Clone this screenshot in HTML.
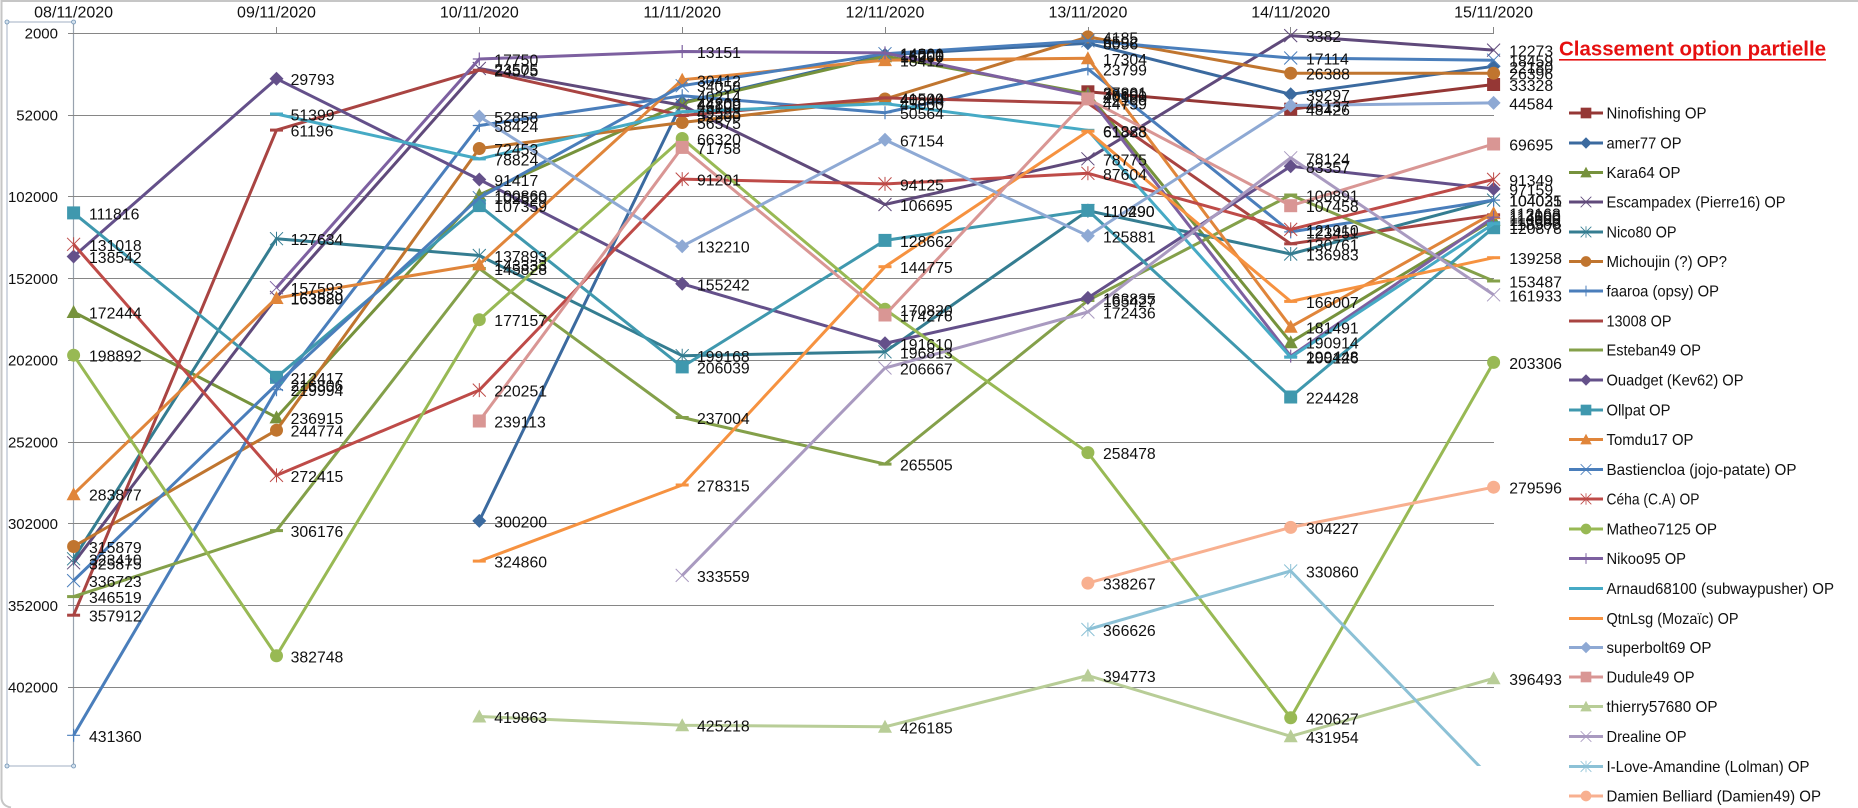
<!DOCTYPE html>
<html lang="fr">
<head>
<meta charset="utf-8">
<title>Classement option partielle</title>
<style>
html,body{margin:0;padding:0;background:#fff;width:1858px;height:808px;overflow:hidden}
svg{display:block;font-family:"Liberation Sans",sans-serif}
.l{fill:none;stroke:currentColor;stroke-width:3;stroke-linejoin:round}
.g{stroke:#868686;stroke-width:1;fill:none}
.lb text{font-size:15.8px;fill:#111}
.ax text{font-size:15px;fill:#111;text-anchor:end}
.dt text{font-size:16px;fill:#111;text-anchor:middle}
.lg text{font-size:16px;fill:#111}
.lg line{stroke:currentColor;stroke-width:3}
</style>
</head>
<body>
<svg width="1858" height="808" viewBox="0 0 1858 808" xmlns="http://www.w3.org/2000/svg">
<defs>
<clipPath id="cp"><rect x="0" y="0" width="1858" height="766"/></clipPath>
<rect id="s" x="-6.5" y="-6.5" width="13" height="13" fill="currentColor"/>
<polygon id="d" points="0,-7 7,0 0,7 -7,0" fill="currentColor"/>
<polygon id="t" points="0,-7 7,6 -7,6" fill="currentColor"/>
<circle id="c" r="6.5" fill="currentColor"/>
<path id="x" d="M-6.5-6.5L6.5 6.5M-6.5 6.5L6.5-6.5" stroke="currentColor" stroke-width="1" fill="none"/>
<path id="p" d="M-6.5 0H6.5M0-6.5V6.5" stroke="currentColor" stroke-width="1.2" fill="none"/>
<path id="a" d="M-6.5-6.5L6.5 6.5M-6.5 6.5L6.5-6.5M0-7V7" stroke="currentColor" stroke-width="1" fill="none"/>
<rect id="h" x="-6.5" y="-1.5" width="13" height="3" fill="currentColor"/>
</defs>
<rect width="1858" height="808" fill="#fff"/>
<path d="M1.5 798V1H1858" fill="none" stroke="#c6c6c6" stroke-width="2"/>
<path d="M1.5 798Q2 806 11 807.5" fill="none" stroke="#c6c6c6" stroke-width="2"/>

<!-- selection box -->
<path d="M7 22H73.6M7 22V766M7 766H73.6" fill="none" stroke="#b4bfcf" stroke-width="1.2"/>
<path d="M73.5 22V766" fill="none" stroke="#98a2ae" stroke-width="1.2"/>
<g fill="#d5e2ee" stroke="#6f92b4" stroke-width="0.8">
<circle cx="7" cy="22" r="2"/><circle cx="73.6" cy="22" r="2"/><circle cx="7" cy="766" r="2"/><circle cx="73.6" cy="766" r="2"/>
</g>

<!-- grid -->
<g class="g">
<path d="M68 33.5H1494M68 115.5H1494M68 196.5H1494M68 278.5H1494M68 360.5H1494M68 442.5H1494M68 523.5H1494M68 605.5H1494M68 687.5H1494"/>
<path d="M276.5 27V33M479.5 27V33M682.5 27V33M885.5 27V33M1088.5 27V33M1290.5 27V33M1493.5 27V33"/>
</g>
<g class="ax">
<text x="58" y="38.5">2000</text><text x="58" y="120.5">52000</text><text x="58" y="202">102000</text><text x="58" y="284">152000</text><text x="58" y="365.5">202000</text><text x="58" y="447.5">252000</text><text x="58" y="529">302000</text><text x="58" y="611">352000</text><text x="58" y="692.5">402000</text>
</g>
<g class="dt">
<text x="73.6" y="17.5">08/11/2020</text><text x="276.5" y="17.5">09/11/2020</text><text x="479.3" y="17.5">10/11/2020</text><text x="682.2" y="17.5">11/11/2020</text><text x="885" y="17.5">12/11/2020</text><text x="1087.9" y="17.5">13/11/2020</text><text x="1290.7" y="17.5">14/11/2020</text><text x="1493.6" y="17.5">15/11/2020</text>
</g>

<!-- series -->
<g color="#953735"><polyline class="l" points="1087.9,91.8 1290.7,109.2 1493.6,84.5"/><use href="#s" x="1087.9" y="91.8"/><use href="#s" x="1290.7" y="109.2"/><use href="#s" x="1493.6" y="84.5"/></g>
<g color="#3b6a9f"><polyline class="l" points="479.3,520.9 682.2,102.3 885,54.9 1087.9,43.2 1290.7,94.3 1493.6,66.3"/><use href="#d" x="479.3" y="520.9"/><use href="#d" x="682.2" y="102.3"/><use href="#d" x="885" y="54.9"/><use href="#d" x="1087.9" y="43.2"/><use href="#d" x="1290.7" y="94.3"/><use href="#d" x="1493.6" y="66.3"/></g>
<g color="#76923c"><polyline class="l" points="73.6,312 276.5,417.4 479.3,194.9 682.2,103.3 885,56.2 1087.9,93.6 1290.7,342.2 1493.6,219.7"/><use href="#t" x="73.6" y="312"/><use href="#t" x="276.5" y="417.4"/><use href="#t" x="479.3" y="194.9"/><use href="#t" x="682.2" y="103.3"/><use href="#t" x="885" y="56.2"/><use href="#t" x="1087.9" y="93.6"/><use href="#t" x="1290.7" y="342.2"/><use href="#t" x="1493.6" y="219.7"/></g>
<g color="#604a7b"><polyline class="l" points="73.6,562.8 276.5,297.4 479.3,68.5 682.2,105.4 885,204.5 1087.9,158.8 1290.7,35.6 1493.6,50.1"/><use href="#x" x="73.6" y="562.8"/><use href="#x" x="276.5" y="297.4"/><use href="#x" x="479.3" y="68.5"/><use href="#x" x="682.2" y="105.4"/><use href="#x" x="885" y="204.5"/><use href="#x" x="1087.9" y="158.8"/><use href="#x" x="1290.7" y="35.6"/><use href="#x" x="1493.6" y="50.1"/></g>
<g color="#357d91"><polyline class="l" points="73.6,558.8 276.5,238.7 479.3,255.5 682.2,355.7 885,351.8 1087.9,210.7 1290.7,254 1493.6,200.1"/><use href="#a" x="73.6" y="558.8"/><use href="#a" x="276.5" y="238.7"/><use href="#a" x="479.3" y="255.5"/><use href="#a" x="682.2" y="355.7"/><use href="#a" x="885" y="351.8"/><use href="#a" x="1087.9" y="210.7"/><use href="#a" x="1290.7" y="254"/><use href="#a" x="1493.6" y="200.1"/></g>
<g color="#c0752f"><polyline class="l" points="73.6,546.5 276.5,430.2 479.3,148.5 682.2,122.5 885,99 1087.9,36.9 1290.7,73.2 1493.6,73.2"/><use href="#c" x="73.6" y="546.5"/><use href="#c" x="276.5" y="430.2"/><use href="#c" x="479.3" y="148.5"/><use href="#c" x="682.2" y="122.5"/><use href="#c" x="885" y="99"/><use href="#c" x="1087.9" y="36.9"/><use href="#c" x="1290.7" y="73.2"/><use href="#c" x="1493.6" y="73.2"/></g>
<g color="#4a7ebb"><polyline class="l" points="73.6,735.3 276.5,389.7 479.3,125.5 682.2,95.8 885,112.7 1087.9,68.9 1290.7,231.9 1493.6,200.1"/><use href="#p" x="73.6" y="735.3"/><use href="#p" x="276.5" y="389.7"/><use href="#p" x="479.3" y="125.5"/><use href="#p" x="682.2" y="95.8"/><use href="#p" x="885" y="112.7"/><use href="#p" x="1087.9" y="68.9"/><use href="#p" x="1290.7" y="231.9"/><use href="#p" x="1493.6" y="200.1"/></g>
<g color="#a94442"><polyline class="l" points="73.6,615.2 276.5,130.1 479.3,70.2 682.2,115.5 885,97.9 1087.9,103.2 1290.7,243.8 1493.6,214.8"/><use href="#h" x="73.6" y="615.2"/><use href="#h" x="276.5" y="130.1"/><use href="#h" x="479.3" y="70.2"/><use href="#h" x="682.2" y="115.5"/><use href="#h" x="885" y="97.9"/><use href="#h" x="1087.9" y="103.2"/><use href="#h" x="1290.7" y="243.8"/><use href="#h" x="1493.6" y="214.8"/></g>
<g color="#84a04a"><polyline class="l" points="73.6,596.6 276.5,530.6 479.3,268.5 682.2,417.5 885,464.1 1087.9,300.5 1290.7,195 1493.6,281"/><use href="#h" x="73.6" y="596.6"/><use href="#h" x="276.5" y="530.6"/><use href="#h" x="479.3" y="268.5"/><use href="#h" x="682.2" y="417.5"/><use href="#h" x="885" y="464.1"/><use href="#h" x="1087.9" y="300.5"/><use href="#h" x="1290.7" y="195"/><use href="#h" x="1493.6" y="281"/></g>
<g color="#64508a"><polyline class="l" points="73.6,256.5 276.5,78.7 479.3,179.5 682.2,283.8 885,343.3 1087.9,297.9 1290.7,166.3 1493.6,188.9"/><use href="#d" x="73.6" y="256.5"/><use href="#d" x="276.5" y="78.7"/><use href="#d" x="479.3" y="179.5"/><use href="#d" x="682.2" y="283.8"/><use href="#d" x="885" y="343.3"/><use href="#d" x="1087.9" y="297.9"/><use href="#d" x="1290.7" y="166.3"/><use href="#d" x="1493.6" y="188.9"/></g>
<g color="#3f98ae"><polyline class="l" points="73.6,212.9 276.5,377.3 479.3,205.6 682.2,366.9 885,240.4 1087.9,210.4 1290.7,397 1493.6,227.7"/><use href="#s" x="73.6" y="212.9"/><use href="#s" x="276.5" y="377.3"/><use href="#s" x="479.3" y="205.6"/><use href="#s" x="682.2" y="366.9"/><use href="#s" x="885" y="240.4"/><use href="#s" x="1087.9" y="210.4"/><use href="#s" x="1290.7" y="397"/><use href="#s" x="1493.6" y="227.7"/></g>
<g color="#e0853a"><polyline class="l" points="73.6,494.2 276.5,298 479.3,264.4 682.2,79.8 885,60.1 1087.9,58.3 1290.7,326.8 1493.6,213.1"/><use href="#t" x="73.6" y="494.2"/><use href="#t" x="276.5" y="298"/><use href="#t" x="479.3" y="264.4"/><use href="#t" x="682.2" y="79.8"/><use href="#t" x="885" y="60.1"/><use href="#t" x="1087.9" y="58.3"/><use href="#t" x="1290.7" y="326.8"/><use href="#t" x="1493.6" y="213.1"/></g>
<g color="#4a7ebb"><polyline class="l" points="73.6,580.6 276.5,384.5 479.3,197.7 682.2,85.7 885,53.7 1087.9,40.8 1290.7,58 1493.6,60.2"/><use href="#x" x="73.6" y="580.6"/><use href="#x" x="276.5" y="384.5"/><use href="#x" x="479.3" y="197.7"/><use href="#x" x="682.2" y="85.7"/><use href="#x" x="885" y="53.7"/><use href="#x" x="1087.9" y="40.8"/><use href="#x" x="1290.7" y="58"/><use href="#x" x="1493.6" y="60.2"/></g>
<g color="#be4b48"><polyline class="l" points="73.6,244.3 276.5,475.4 479.3,390.1 682.2,179.1 885,183.9 1087.9,173.3 1290.7,229.4 1493.6,179.4"/><use href="#a" x="73.6" y="244.3"/><use href="#a" x="276.5" y="475.4"/><use href="#a" x="479.3" y="390.1"/><use href="#a" x="682.2" y="179.1"/><use href="#a" x="885" y="183.9"/><use href="#a" x="1087.9" y="173.3"/><use href="#a" x="1290.7" y="229.4"/><use href="#a" x="1493.6" y="179.4"/></g>
<g color="#98b954"><polyline class="l" points="73.6,355.2 276.5,655.8 479.3,319.7 682.2,138.5 885,309.3 1087.9,452.6 1290.7,717.8 1493.6,362.4"/><use href="#c" x="73.6" y="355.2"/><use href="#c" x="276.5" y="655.8"/><use href="#c" x="479.3" y="319.7"/><use href="#c" x="682.2" y="138.5"/><use href="#c" x="885" y="309.3"/><use href="#c" x="1087.9" y="452.6"/><use href="#c" x="1290.7" y="717.8"/><use href="#c" x="1493.6" y="362.4"/></g>
<g color="#7d60a0"><polyline class="l" points="276.5,287.7 479.3,59 682.2,51.5 885,52.9 1087.9,95.6 1290.7,356.1 1493.6,217.2"/><use href="#x" x="276.5" y="287.7"/><use href="#p" x="479.3" y="59"/><use href="#p" x="682.2" y="51.5"/><use href="#p" x="885" y="52.9"/><use href="#p" x="1087.9" y="95.6"/><use href="#p" x="1290.7" y="356.1"/><use href="#p" x="1493.6" y="217.2"/></g>
<g color="#46aac5"><polyline class="l" points="276.5,114 479.3,158.9 682.2,111.8 885,103.6 1087.9,130.3 1290.7,357.2 1493.6,223.7"/><use href="#h" x="276.5" y="114"/><use href="#h" x="479.3" y="158.9"/><use href="#h" x="682.2" y="111.8"/><use href="#h" x="885" y="103.6"/><use href="#h" x="1087.9" y="130.3"/><use href="#h" x="1290.7" y="357.2"/><use href="#h" x="1493.6" y="223.7"/></g>
<g color="#f69240"><polyline class="l" points="479.3,561.1 682.2,485 885,266.7 1087.9,131.2 1290.7,301.4 1493.6,257.7"/><use href="#h" x="479.3" y="561.1"/><use href="#h" x="682.2" y="485"/><use href="#h" x="885" y="266.7"/><use href="#h" x="1087.9" y="131.2"/><use href="#h" x="1290.7" y="301.4"/><use href="#h" x="1493.6" y="257.7"/></g>
<g color="#8ea9d4"><polyline class="l" points="479.3,116.5 682.2,246.2 885,139.8 1087.9,235.8 1290.7,105.5 1493.6,102.9"/><use href="#d" x="479.3" y="116.5"/><use href="#d" x="682.2" y="246.2"/><use href="#d" x="885" y="139.8"/><use href="#d" x="1087.9" y="235.8"/><use href="#d" x="1290.7" y="105.5"/><use href="#d" x="1493.6" y="102.9"/></g>
<g color="#d99694"><polyline class="l" points="479.3,421 682.2,147.4 885,315 1087.9,98.9 1290.7,205.7 1493.6,144"/><use href="#s" x="479.3" y="421"/><use href="#s" x="682.2" y="147.4"/><use href="#s" x="885" y="315"/><use href="#s" x="1087.9" y="98.9"/><use href="#s" x="1290.7" y="205.7"/><use href="#s" x="1493.6" y="144"/></g>
<g color="#b8cd97"><polyline class="l" points="479.3,716.5 682.2,725.2 885,726.8 1087.9,675.5 1290.7,736.3 1493.6,678.3"/><use href="#t" x="479.3" y="716.5"/><use href="#t" x="682.2" y="725.2"/><use href="#t" x="885" y="726.8"/><use href="#t" x="1087.9" y="675.5"/><use href="#t" x="1290.7" y="736.3"/><use href="#t" x="1493.6" y="678.3"/></g>
<g color="#a99ac0"><polyline class="l" points="682.2,575.4 885,368 1087.9,312 1290.7,157.8 1493.6,294.8"/><use href="#x" x="682.2" y="575.4"/><use href="#x" x="885" y="368"/><use href="#x" x="1087.9" y="312"/><use href="#x" x="1290.7" y="157.8"/><use href="#x" x="1493.6" y="294.8"/></g>
<g color="#8cc1d6"><polyline class="l" clip-path="url(#cp)" points="1087.9,629.5 1290.7,571 1493.6,781"/><use href="#a" x="1087.9" y="629.5"/><use href="#a" x="1290.7" y="571"/></g>
<g color="#f8b090"><polyline class="l" points="1087.9,583.1 1290.7,527.4 1493.6,487.2"/><use href="#c" x="1087.9" y="583.1"/><use href="#c" x="1290.7" y="527.4"/><use href="#c" x="1493.6" y="487.2"/></g>

<!-- data labels -->
<g class="lb">
<g transform="translate(89,6.5)"><text y="212.9">111816</text><text y="244.3">131018</text><text y="256.5">138542</text><text y="312">172444</text><text y="355.2">198892</text><text y="494.2">283877</text><text y="546.5">315879</text><text y="558.8">323410</text><text y="562.8">325875</text><text y="580.6">336723</text><text y="596.6">346519</text><text y="615.2">357912</text><text y="735.3">431360</text></g>
<g transform="translate(290.6,6.5)"><text y="78.7">29793</text><text y="114">51399</text><text y="130.1">61196</text><text y="238.7">127634</text><text y="287.7">157593</text><text y="297.4">163520</text><text y="298">163889</text><text y="377.3">212417</text><text y="384.5">216806</text><text y="389.7">219994</text><text y="417.4">236915</text><text y="430.2">244774</text><text y="475.4">272415</text><text y="530.6">306176</text><text y="655.8">382748</text></g>
<g transform="translate(494.3,6.5)"><text y="59">17750</text><text y="68.5">23505</text><text y="70.2">24575</text><text y="116.5">52858</text><text y="125.5">58424</text><text y="148.5">72453</text><text y="158.9">78824</text><text y="179.5">91417</text><text y="194.9">100860</text><text y="197.7">102520</text><text y="205.6">107359</text><text y="255.5">137893</text><text y="264.4">143333</text><text y="268.5">145828</text><text y="319.7">177157</text><text y="390.1">220251</text><text y="421">239113</text><text y="520.9">300200</text><text y="561.1">324860</text><text y="716.5">419863</text></g>
<g transform="translate(697,6.5)"><text y="51.5">13151</text><text y="79.8">30412</text><text y="85.7">34058</text><text y="95.8">40214</text><text y="102.3">44200</text><text y="103.3">44809</text><text y="105.4">46100</text><text y="111.8">49593</text><text y="115.5">52300</text><text y="122.5">56575</text><text y="138.5">66320</text><text y="147.4">71758</text><text y="179.1">91201</text><text y="246.2">132210</text><text y="283.8">155242</text><text y="355.7">199168</text><text y="366.9">206039</text><text y="417.5">237004</text><text y="485">278315</text><text y="575.4">333559</text><text y="725.2">425218</text></g>
<g transform="translate(900,6.5)"><text y="52.9">14001</text><text y="53.7">14500</text><text y="54.9">15200</text><text y="56.2">16000</text><text y="60.1">18412</text><text y="97.9">41500</text><text y="99">40844</text><text y="103.6">45000</text><text y="112.7">50564</text><text y="139.8">67154</text><text y="183.9">94125</text><text y="204.5">106695</text><text y="240.4">128662</text><text y="266.7">144775</text><text y="309.3">170820</text><text y="315">174276</text><text y="343.3">191610</text><text y="351.8">196813</text><text y="368">206667</text><text y="464.1">265505</text><text y="726.8">426185</text></g>
<g transform="translate(1103,6.5)"><text y="36.9">4185</text><text y="40.8">6592</text><text y="43.2">8056</text><text y="58.3">17304</text><text y="68.9">23799</text><text y="91.8">37801</text><text y="93.6">38891</text><text y="95.6">40100</text><text y="98.9">42100</text><text y="103.2">44759</text><text y="130.3">61328</text><text y="131.2">61888</text><text y="158.8">78775</text><text y="173.3">87604</text><text y="210.4">110290</text><text y="210.7">110490</text><text y="235.8">125881</text><text y="297.9">163835</text><text y="300.5">165427</text><text y="312">172436</text><text y="452.6">258478</text><text y="583.1">338267</text><text y="629.5">366626</text><text y="675.5">394773</text></g>
<g transform="translate(1306,6.5)"><text y="35.6">3382</text><text y="58">17114</text><text y="73.2">26388</text><text y="94.3">39297</text><text y="105.5">46137</text><text y="109.2">48426</text><text y="157.8">78124</text><text y="166.3">83357</text><text y="195">100891</text><text y="205.7">107458</text><text y="229.4">121910</text><text y="231.9">123451</text><text y="243.8">130761</text><text y="254">136983</text><text y="301.4">166007</text><text y="326.8">181491</text><text y="342.2">190914</text><text y="356.1">199448</text><text y="357.2">200126</text><text y="397">224428</text><text y="527.4">304227</text><text y="571">330860</text><text y="717.8">420627</text><text y="736.3">431954</text></g>
<g transform="translate(1509.2,6.5)"><text y="50.1">12273</text><text y="60.2">18459</text><text y="66.3">22180</text><text y="73.2">26396</text><text y="84.5">33328</text><text y="102.9">44584</text><text y="144">69695</text><text y="179.4">91349</text><text y="188.9">97159</text><text y="200.1">104025</text><text y="200.1">104031</text><text y="213.1">112163</text><text y="214.8">113000</text><text y="217.2">114500</text><text y="219.7">116000</text><text y="223.7">118500</text><text y="227.7">120878</text><text y="257.7">139258</text><text y="281">153487</text><text y="294.8">161933</text><text y="362.4">203306</text><text y="487.2">279596</text><text y="678.3">396493</text></g>
</g>

<!-- title -->
<text x="1559" y="55.5" font-size="20" font-weight="700" fill="#e60f0f" textLength="267" lengthAdjust="spacingAndGlyphs">Classement option partielle</text>
<rect x="1559" y="59" width="267" height="1.6" fill="#e60f0f"/>

<!-- legend -->
<g class="lg">
<g color="#953735"><line x1="1569" x2="1603" y1="113" y2="113"/><use href="#s" transform="translate(1586,113) scale(.82)"/><text x="1606.5" y="118.5" textLength="100" lengthAdjust="spacingAndGlyphs">Ninofishing OP</text></g>
<g color="#3b6a9f"><line x1="1569" x2="1603" y1="143" y2="143"/><use href="#d" transform="translate(1586,143) scale(.82)"/><text x="1606.5" y="148.5" textLength="75" lengthAdjust="spacingAndGlyphs">amer77 OP</text></g>
<g color="#76923c"><line x1="1569" x2="1603" y1="172.5" y2="172.5"/><use href="#t" transform="translate(1586,172.5) scale(.82)"/><text x="1606.5" y="178" textLength="74" lengthAdjust="spacingAndGlyphs">Kara64  OP</text></g>
<g color="#604a7b"><line x1="1569" x2="1603" y1="202" y2="202"/><use href="#x" transform="translate(1586,202) scale(.82)"/><text x="1606.5" y="207.5" textLength="179" lengthAdjust="spacingAndGlyphs">Escampadex (Pierre16) OP</text></g>
<g color="#357d91"><line x1="1569" x2="1603" y1="232" y2="232"/><use href="#a" transform="translate(1586,232) scale(.82)"/><text x="1606.5" y="237.5" textLength="70" lengthAdjust="spacingAndGlyphs">Nico80 OP</text></g>
<g color="#c0752f"><line x1="1569" x2="1603" y1="261.5" y2="261.5"/><use href="#c" transform="translate(1586,261.5) scale(.82)"/><text x="1606.5" y="267" textLength="120.5" lengthAdjust="spacingAndGlyphs">Michoujin (?) OP?</text></g>
<g color="#4a7ebb"><line x1="1569" x2="1603" y1="291" y2="291"/><use href="#p" transform="translate(1586,291) scale(.82)"/><text x="1606.5" y="296.5" textLength="112.5" lengthAdjust="spacingAndGlyphs">faaroa (opsy) OP</text></g>
<g color="#a94442"><line x1="1569" x2="1603" y1="321" y2="321"/><text x="1606.5" y="326.5" textLength="65" lengthAdjust="spacingAndGlyphs">13008 OP</text></g>
<g color="#84a04a"><line x1="1569" x2="1603" y1="350" y2="350"/><text x="1606.5" y="355.5" textLength="94.5" lengthAdjust="spacingAndGlyphs">Esteban49 OP</text></g>
<g color="#64508a"><line x1="1569" x2="1603" y1="380" y2="380"/><use href="#d" transform="translate(1586,380) scale(.82)"/><text x="1606.5" y="385.5" textLength="137" lengthAdjust="spacingAndGlyphs">Ouadget (Kev62) OP</text></g>
<g color="#3f98ae"><line x1="1569" x2="1603" y1="410" y2="410"/><use href="#s" transform="translate(1586,410) scale(.82)"/><text x="1606.5" y="415.5" textLength="64" lengthAdjust="spacingAndGlyphs">Ollpat OP</text></g>
<g color="#e0853a"><line x1="1569" x2="1603" y1="439.5" y2="439.5"/><use href="#t" transform="translate(1586,439.5) scale(.82)"/><text x="1606.5" y="445" textLength="87" lengthAdjust="spacingAndGlyphs">Tomdu17 OP</text></g>
<g color="#4a7ebb"><line x1="1569" x2="1603" y1="469.5" y2="469.5"/><use href="#x" transform="translate(1586,469.5) scale(.82)"/><text x="1606.5" y="475" textLength="190" lengthAdjust="spacingAndGlyphs">Bastiencloa (jojo-patate) OP</text></g>
<g color="#be4b48"><line x1="1569" x2="1603" y1="499" y2="499"/><use href="#a" transform="translate(1586,499) scale(.82)"/><text x="1606.5" y="504.5" textLength="93" lengthAdjust="spacingAndGlyphs">Céha (C.A) OP</text></g>
<g color="#98b954"><line x1="1569" x2="1603" y1="529" y2="529"/><use href="#c" transform="translate(1586,529) scale(.82)"/><text x="1606.5" y="534.5" textLength="110.5" lengthAdjust="spacingAndGlyphs">Matheo7125 OP</text></g>
<g color="#7d60a0"><line x1="1569" x2="1603" y1="558.5" y2="558.5"/><use href="#p" transform="translate(1586,558.5) scale(.82)"/><text x="1606.5" y="564" textLength="79.5" lengthAdjust="spacingAndGlyphs">Nikoo95 OP</text></g>
<g color="#46aac5"><line x1="1569" x2="1603" y1="588.5" y2="588.5"/><text x="1606.5" y="594" textLength="227.5" lengthAdjust="spacingAndGlyphs">Arnaud68100 (subwaypusher) OP</text></g>
<g color="#f69240"><line x1="1569" x2="1603" y1="618.5" y2="618.5"/><text x="1606.5" y="624" textLength="132" lengthAdjust="spacingAndGlyphs">QtnLsg (Mozaïc) OP</text></g>
<g color="#8ea9d4"><line x1="1569" x2="1603" y1="647.5" y2="647.5"/><use href="#d" transform="translate(1586,647.5) scale(.82)"/><text x="1606.5" y="653" textLength="105" lengthAdjust="spacingAndGlyphs">superbolt69 OP</text></g>
<g color="#d99694"><line x1="1569" x2="1603" y1="677" y2="677"/><use href="#s" transform="translate(1586,677) scale(.82)"/><text x="1606.5" y="682.5" textLength="88" lengthAdjust="spacingAndGlyphs">Dudule49 OP</text></g>
<g color="#b8cd97"><line x1="1569" x2="1603" y1="706.5" y2="706.5"/><use href="#t" transform="translate(1586,706.5) scale(.82)"/><text x="1606.5" y="712" textLength="111" lengthAdjust="spacingAndGlyphs">thierry57680 OP</text></g>
<g color="#a99ac0"><line x1="1569" x2="1603" y1="736.5" y2="736.5"/><use href="#x" transform="translate(1586,736.5) scale(.82)"/><text x="1606.5" y="742" textLength="80" lengthAdjust="spacingAndGlyphs">Drealine OP</text></g>
<g color="#8cc1d6"><line x1="1569" x2="1603" y1="766.5" y2="766.5"/><use href="#a" transform="translate(1586,766.5) scale(.82)"/><text x="1606.5" y="772" textLength="203" lengthAdjust="spacingAndGlyphs">I-Love-Amandine (Lolman) OP</text></g>
<g color="#f8b090"><line x1="1569" x2="1603" y1="796" y2="796"/><use href="#c" transform="translate(1586,796) scale(.82)"/><text x="1606.5" y="801.5" textLength="214.5" lengthAdjust="spacingAndGlyphs">Damien Belliard (Damien49) OP</text></g>
</g>
</svg>
</body>
</html>
